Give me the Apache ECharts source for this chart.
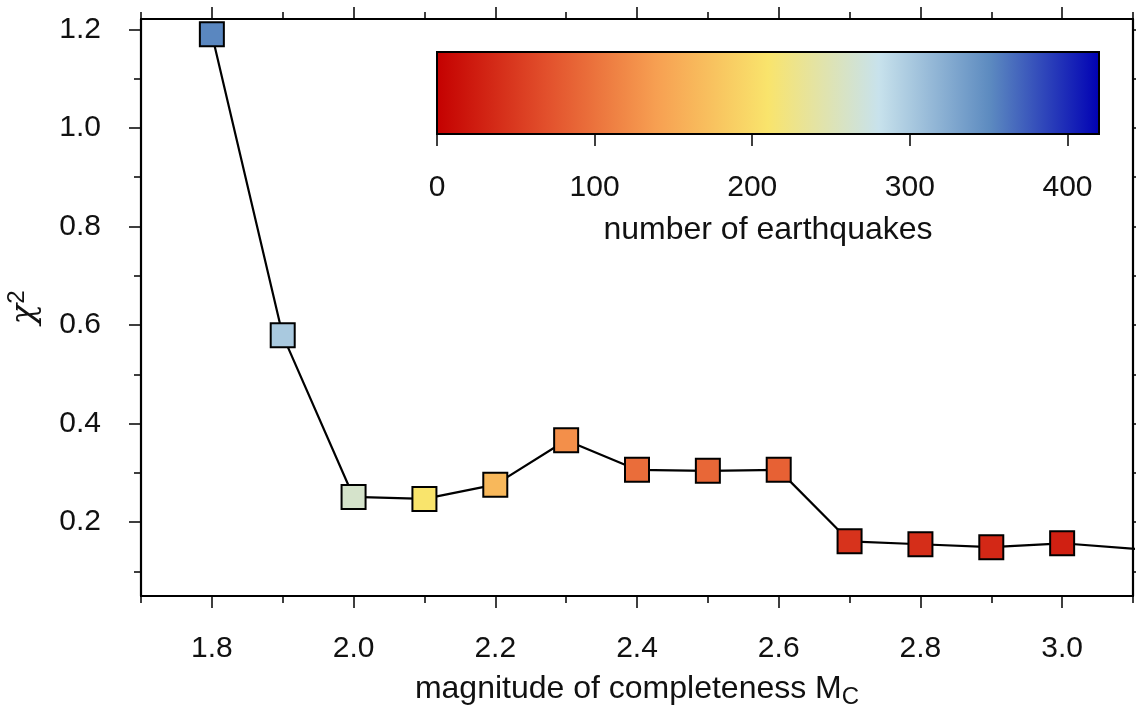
<!DOCTYPE html>
<html><head><meta charset="utf-8">
<script src="https://cdn.jsdelivr.net/npm/echarts@6/dist/echarts.min.js"></script>
<style>html,body{margin:0;padding:0;background:#fff}#c{width:1136px;height:710px}</style>
</head><body><div id="c"></div>
<script>
// ---- data ----
const magnitudes = [1.8, 1.9, 2.0, 2.1, 2.2, 2.3, 2.4, 2.5, 2.6, 2.7, 2.8, 2.9, 3.0, 3.2];
const chi2       = [1.19, 0.579, 0.251, 0.247, 0.276, 0.366, 0.306, 0.304, 0.306, 0.161, 0.155, 0.149, 0.157, 0.135];
const quakeCounts = [352, 300, 262, 210, 165, 125, 95, 90, 85, 45, 40, 35, 28, 20];
const xMajorTicks = [1.8, 2.0, 2.2, 2.4, 2.6, 2.8, 3.0];
const xMinorTicks = [1.7, 1.9, 2.1, 2.3, 2.5, 2.7, 2.9, 3.1];
const yMajorTicks = [0.2, 0.4, 0.6, 0.8, 1.0, 1.2];
const yMinorTicks = [0.1, 0.3, 0.5, 0.7, 0.9, 1.1];
const colorbarTicks = [0, 100, 200, 300, 400];
const colorbarColors = ['#c40000', '#e2502c', '#f7a052', '#f9e46c', '#c8e2ec', '#5d8bc0', '#0000b4'];

const FONT = "'Liberation Sans', Arial, sans-serif";
const TXT = '#111';
const XMIN = 1.7, XMAX = 3.1, YMIN = 0.05, YMAX = 1.221;

function xAxisDef(position, ticks, len, opts) {
  return Object.assign({
    type: 'value', gridIndex: 0, position: position, min: XMIN, max: XMAX,
    axisLine: { show: false, onZero: false },
    axisTick: { show: true, inside: false, length: len, customValues: ticks, lineStyle: { color: '#000', width: 1.5 } },
    axisLabel: { show: false },
    splitLine: { show: false }
  }, opts || {});
}
function yAxisDef(position, ticks, len, opts) {
  return Object.assign({
    type: 'value', gridIndex: 0, position: position, min: YMIN, max: YMAX,
    axisLine: { show: false, onZero: false },
    axisTick: { show: true, inside: false, length: len, customValues: ticks, lineStyle: { color: '#000', width: 1.5 } },
    axisLabel: { show: false },
    splitLine: { show: false }
  }, opts || {});
}

const stops = colorbarColors.map((c, i) => ({ offset: i / (colorbarColors.length - 1), color: c }));

const chart = echarts.init(document.getElementById('c'), null, { renderer: 'canvas' });
chart.setOption({
  animation: false,
  backgroundColor: '#fff',
  textStyle: { fontFamily: FONT, color: TXT },
  grid: [
    { left: 141, right: 3, top: 19, bottom: 114, containLabel: false, outerBoundsMode: 'none' },
    { left: 437, top: 52, width: 662, height: 82, show: true, outerBoundsMode: 'none',
      backgroundColor: new echarts.graphic.LinearGradient(0, 0, 1, 0, stops),
      borderColor: '#000', borderWidth: 2 }
  ],
  visualMap: {
    show: false, type: 'continuous', min: 0, max: 420, dimension: 2, seriesIndex: 1,
    inRange: { color: colorbarColors }
  },
  xAxis: [
    xAxisDef('bottom', xMajorTicks, 12, {
      axisLine: { show: true, onZero: false, lineStyle: { color: '#000', width: 2.2 } },
      axisLabel: { show: true, customValues: xMajorTicks, margin: 38, fontSize: 30, fontFamily: FONT, color: TXT,
        formatter: v => v.toFixed(1) },
      name: 'magnitude of completeness {m|M}{s|C}',
      nameLocation: 'middle', nameGap: 72,
      nameTextStyle: { fontSize: 32, fontFamily: FONT, color: TXT, lineHeight: 40,
        rich: { m: { fontSize: 32, fontFamily: FONT, color: TXT, lineHeight: 40 },
                s: { fontSize: 24, fontFamily: FONT, color: TXT, lineHeight: 20, verticalAlign: 'bottom' } } }
    }),
    xAxisDef('bottom', xMinorTicks, 7),
    xAxisDef('top', xMajorTicks, 12, { axisLine: { show: true, onZero: false, lineStyle: { color: '#000', width: 2.2 } } }),
    xAxisDef('top', xMinorTicks, 7),
    { type: 'value', gridIndex: 1, position: 'bottom', min: 0, max: 420,
      axisLine: { show: false, onZero: false },
      axisTick: { show: true, inside: false, length: 12, customValues: colorbarTicks, lineStyle: { color: '#000', width: 1.5 } },
      axisLabel: { show: true, customValues: colorbarTicks, margin: 39, fontSize: 30, fontFamily: FONT, color: TXT },
      splitLine: { show: false },
      name: 'number of earthquakes', nameLocation: 'middle', nameGap: 80,
      nameTextStyle: { fontSize: 32, fontFamily: FONT, color: TXT } }
  ],
  yAxis: [
    yAxisDef('left', yMajorTicks, 12, {
      axisLine: { show: true, onZero: false, lineStyle: { color: '#000', width: 2.2 } },
      axisLabel: { show: true, customValues: yMajorTicks, margin: 40, fontSize: 30, fontFamily: FONT, color: TXT,
        formatter: v => v.toFixed(1) },
      name: '{c|χ}{s|2}',
      nameLocation: 'middle', nameGap: 96,
      nameTextStyle: { fontSize: 32, fontFamily: FONT, color: TXT, lineHeight: 40,
        rich: { c: { fontSize: 34, fontFamily: "'DejaVu Serif', serif", fontStyle: 'italic', color: TXT, lineHeight: 40 },
                s: { fontSize: 24, fontFamily: FONT, color: TXT, lineHeight: 24, verticalAlign: 'top' } } }
    }),
    yAxisDef('left', yMinorTicks, 7),
    yAxisDef('right', yMajorTicks, 12, { axisLine: { show: true, onZero: false, lineStyle: { color: '#000', width: 2.2 } } }),
    yAxisDef('right', yMinorTicks, 7),
    { type: 'value', gridIndex: 1, min: 0, max: 1, show: false }
  ],
  series: [
    { type: 'line', xAxisIndex: 0, yAxisIndex: 0, clip: true, showSymbol: false, symbol: 'none',
      data: magnitudes.map((m, i) => [m, chi2[i]]),
      lineStyle: { color: '#000', width: 2.2 }, z: 2 },
    { type: 'scatter', xAxisIndex: 0, yAxisIndex: 0, clip: true, symbol: 'rect', symbolSize: 24,
      data: magnitudes.map((m, i) => [m, chi2[i], quakeCounts[i]]),
      itemStyle: { borderColor: '#000', borderWidth: 2, opacity: 1 }, z: 3 }
  ]
});
</script></body></html>
